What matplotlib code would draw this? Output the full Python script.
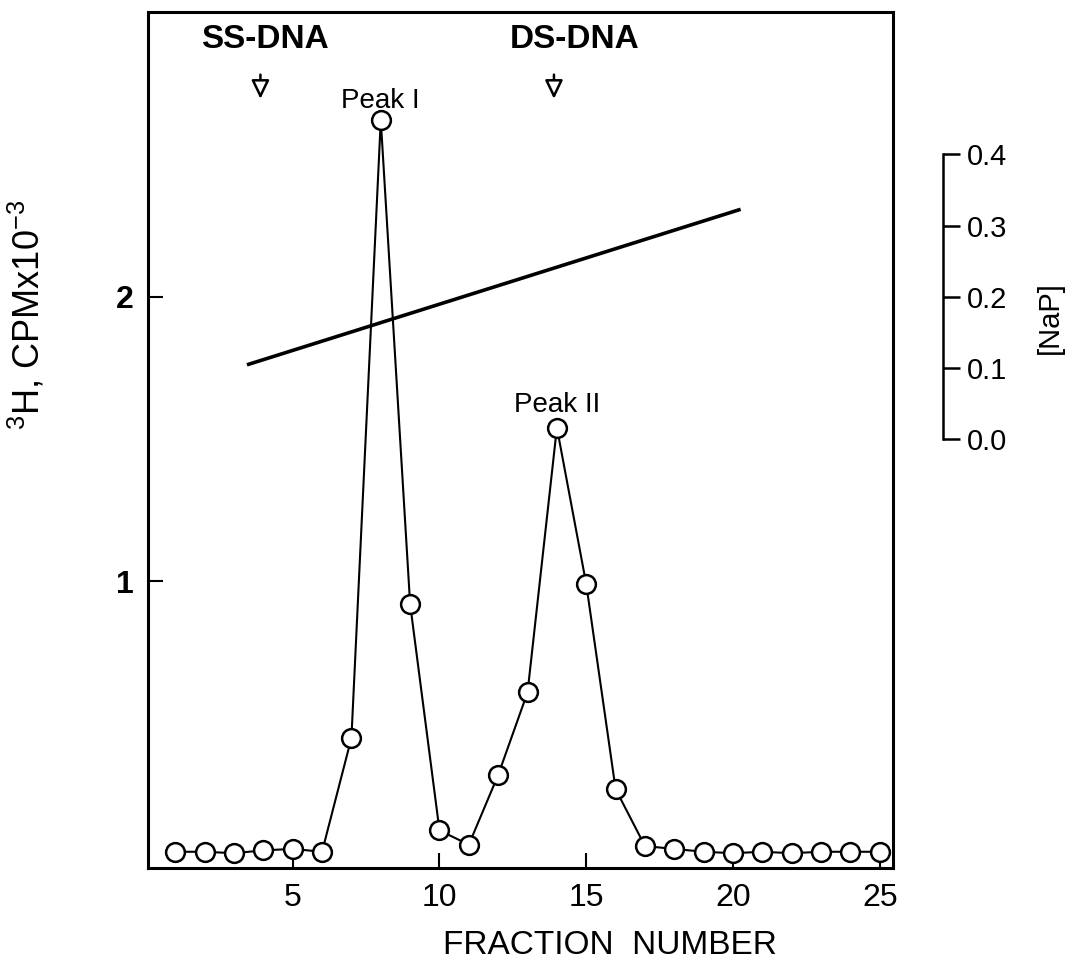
import matplotlib.pyplot as plt
import numpy as np

# fraction profile (3H counts, CPM x 10^-3)
fractions = np.arange(1, 26)
cpm = [0.05, 0.05, 0.045, 0.055, 0.06, 0.05, 0.45, 2.62, 0.92, 0.125,
       0.075, 0.32, 0.61, 1.54, 0.99, 0.27, 0.07, 0.06, 0.05, 0.045,
       0.05, 0.045, 0.05, 0.05, 0.05]

# NaP gradient (start / end)
grad_x = [3.5, 20.2]
grad_nap = [0.105, 0.322]

nap_ticks = [0.0, 0.1, 0.2, 0.3, 0.4]
x_ticks = [5, 10, 15, 20, 25]
y_ticks = [1, 2]

plt.rcParams['font.family'] = ['Liberation Sans', 'DejaVu Sans']
plt.rcParams['mathtext.fontset'] = 'custom'
plt.rcParams['mathtext.rm'] = 'Liberation Sans'
plt.rcParams['mathtext.it'] = 'Liberation Sans'

fig = plt.figure(figsize=(10.72, 9.68), dpi=100)
ax = fig.add_axes([148 / 1072, 1 - 868 / 968, (893 - 148) / 1072, (868 - 12) / 968])

ax.plot(fractions, cpm, color='black', lw=1.5, marker='o', ms=13.5,
        mfc='white', mec='black', mew=1.8, zorder=3)

ax.set_xlim(0.07, 25.45)
ax.set_ylim(-0.007, 3.0)
ax.set_xticks(x_ticks)
ax.set_yticks(y_ticks)
ax.tick_params(direction='in', length=11, width=1.5, labelsize=23, pad=11)
ax.tick_params(axis='y', pad=10)
for lab in ax.get_yticklabels():
    lab.set_fontweight('bold')
for s in ax.spines.values():
    s.set_linewidth(2.2)

fig.text(610 / 1072, 1 - 945 / 968, 'FRACTION  NUMBER', fontsize=24,
         ha='center', va='center')
fig.text(27 / 1072, 1 - 315 / 968, r'$^{3}$H, CPMx10$^{-3}$', fontsize=26,
         ha='center', va='center', rotation=90)

# right axis for the NaP gradient: 0.0 -> 1.5 on left scale, 0.4 -> 2.5
ax2 = ax.twinx()
lo, hi = ax.get_ylim()
ax2.set_ylim((lo - 1.5) * 0.4, (hi - 1.5) * 0.4)
ax2.plot(grad_x, grad_nap, color='black', lw=2.6)
for name in ['top', 'bottom', 'left']:
    ax2.spines[name].set_visible(False)
ax2.spines['right'].set_position(('outward', 36))
ax2.spines['right'].set_bounds(0, 0.4)
ax2.spines['right'].set_linewidth(1.8)
ax2.set_yticks(nap_ticks)
ax2.set_yticklabels([f'{t:.1f}' for t in nap_ticks])
ax2.tick_params(axis='y', direction='out', length=12, width=1.8, labelsize=21, pad=5)
fig.text(1050 / 1072, 1 - 318 / 968, '[NaP]', fontsize=21,
         ha='center', va='center', rotation=90)

# markers for the DNA standards
ax.text(4.05, 2.905, 'SS-DNA', fontsize=24, ha='center', va='center', fontweight='bold')
ax.text(14.6, 2.905, 'DS-DNA', fontsize=24, ha='center', va='center', fontweight='bold')
for xa in [3.9, 13.9]:
    ax.annotate('', xy=(xa, 2.695), xytext=(xa, 2.78),
                arrowprops=dict(arrowstyle='-|>,head_width=0.36,head_length=0.75',
                                mutation_scale=15, shrinkA=0, shrinkB=0,
                                fc='white', ec='black', lw=1.8))

ax.text(8.0, 2.688, 'Peak I', fontsize=20, ha='center', va='center')
ax.text(14.0, 1.618, 'Peak II', fontsize=20, ha='center', va='center')

fig.savefig('out.png', dpi=100)
